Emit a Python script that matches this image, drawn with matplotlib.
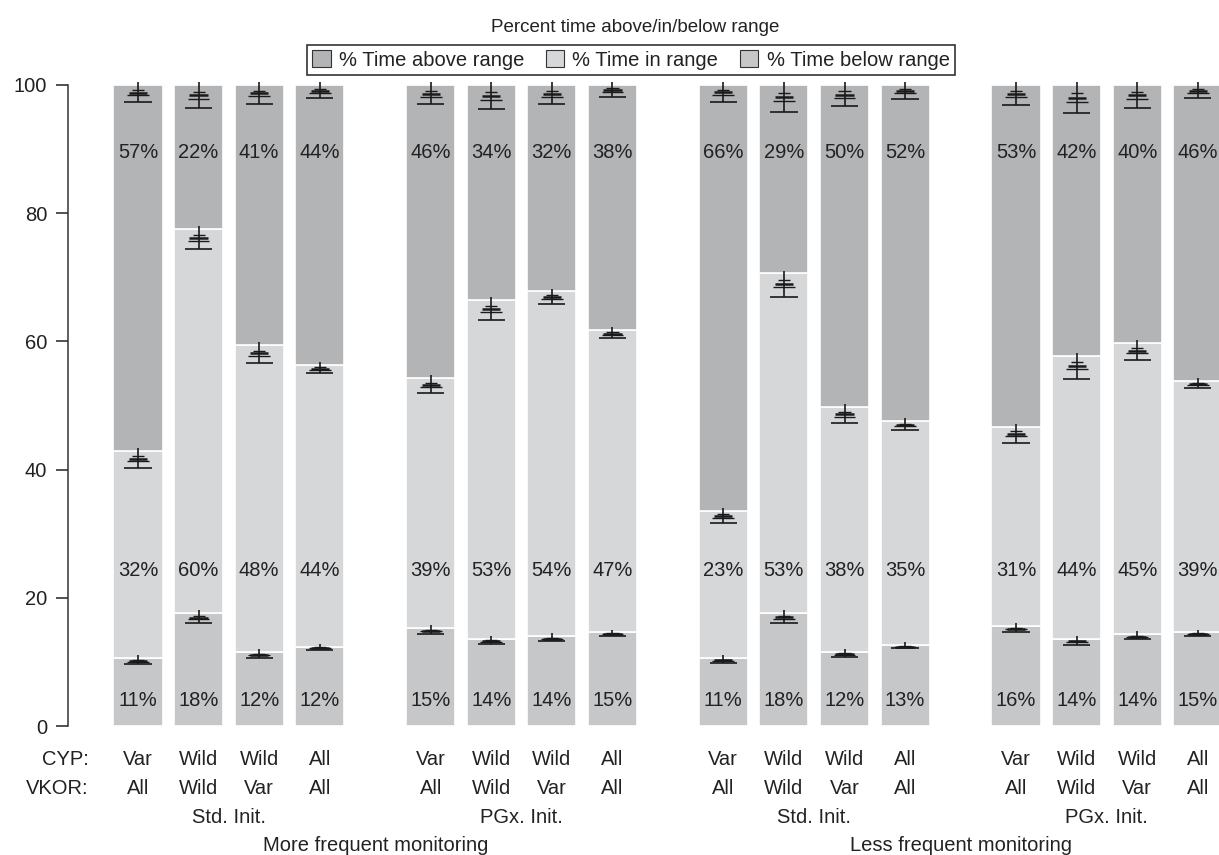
# 堆叠柱状图：Percent time above/in/below range
import matplotlib
matplotlib.use('Agg')
import matplotlib.pyplot as plt
from matplotlib.patches import Patch
from matplotlib.transforms import blended_transform_factory

plt.rcParams['font.family'] = ['Liberation Sans', 'DejaVu Sans']

# 每组四根柱子的基因型标签
cyp_labels = ['Var', 'Wild', 'Wild', 'All']
vkor_labels = ['All', 'Wild', 'Var', 'All']
init_labels = ['Std. Init.', 'PGx. Init.', 'Std. Init.', 'PGx. Init.']
monitor_labels = ['More frequent monitoring', 'Less frequent monitoring']
series_labels = ['% Time above range', '% Time in range', '% Time below range']

# 四组 x 四根，below + in + above = 100
pct_below = [10.6, 17.6, 11.6, 12.4, 15.3, 13.6, 14.0, 14.6,
             10.6, 17.7, 11.6, 12.6, 15.6, 13.6, 14.3, 14.6]
pct_in = [32.3, 60.0, 47.8, 43.9, 39.0, 52.8, 53.8, 47.2,
          23.0, 52.9, 38.2, 35.0, 31.1, 44.2, 45.4, 39.3]
pct_above = [57.1, 22.4, 40.6, 43.7, 45.7, 33.6, 32.2, 38.2,
             66.4, 29.4, 50.2, 52.4, 53.3, 42.2, 40.3, 46.1]

# 误差标记的长度（顶部 / 中间边界 / 底部边界）
err_top = [2.7, 3.6, 2.9, 2.0, 3.0, 3.8, 3.0, 1.8,
           2.6, 4.2, 3.3, 2.2, 3.1, 4.4, 3.6, 2.0]
err_mid = [2.6, 3.2, 2.8, 1.2, 2.4, 3.0, 2.0, 1.3,
           2.0, 3.6, 2.6, 1.4, 2.5, 3.6, 2.6, 1.2]
err_bot = [0.9, 1.6, 1.0, 0.5, 0.9, 0.8, 0.8, 0.5,
           0.8, 1.6, 0.9, 0.5, 0.9, 0.9, 0.8, 0.5]

c_above = '#b3b4b6'
c_in = '#d6d7d9'
c_below = '#c6c7c9'
txt_color = '#222222'
line_color = '#1a1a1a'


def draw_marker(ax, xc, y0, e):
    """画那种“土”字形的误差标记"""
    ax.vlines(xc, y0 - e, y0 + 0.45, color=line_color, lw=1.2, clip_on=False)
    for frac, w, lw in zip([0.3, 0.45, 0.6, 1.0], [0.2, 0.3, 0.36, 0.45], [1.0, 1.8, 1.0, 1.2]):
        ax.hlines(y0 - frac * e, xc - w / 2, xc + w / 2,
                  color=line_color, lw=lw, clip_on=False)


fig = plt.figure(figsize=(12.19, 8.55), dpi=100)
ax = fig.add_axes([68 / 1219, 129 / 855, 1151 / 1219, 641 / 855])

# 柱子位置：组间距 4.83，组内间距 1
xs = [g * 4.83 + i for g in range(4) for i in range(4)]
bw = 0.81

bottoms_in = pct_below
bottoms_above = [b + m for b, m in zip(pct_below, pct_in)]
ax.bar(xs, pct_below, width=bw, color=c_below, edgecolor='white', linewidth=1.2)
ax.bar(xs, pct_in, width=bw, bottom=bottoms_in, color=c_in, edgecolor='white', linewidth=1.2)
ax.bar(xs, pct_above, width=bw, bottom=bottoms_above, color=c_above, edgecolor='white', linewidth=1.2)

for i, x in enumerate(xs):
    top = bottoms_above[i] + pct_above[i]
    draw_marker(ax, x, top, err_top[i])
    draw_marker(ax, x, bottoms_above[i], err_mid[i])
    draw_marker(ax, x, pct_below[i], err_bot[i])
    # 百分比文字（固定高度）
    ax.text(x, 4.0, f'{pct_below[i]:.0f}%', ha='center', va='center', fontsize=14.5, color=txt_color)
    ax.text(x, 24.3, f'{pct_in[i]:.0f}%', ha='center', va='center', fontsize=14.5, color=txt_color)
    ax.text(x, 89.4, f'{pct_above[i]:.0f}%', ha='center', va='center', fontsize=14.5, color=txt_color)

ax.set_xlim(-1.155, 17.84)
ax.set_ylim(0, 100)
ax.set_yticks([0, 20, 40, 60, 80, 100])
ax.set_xticks([])
for s in ['top', 'right', 'bottom']:
    ax.spines[s].set_visible(False)
ax.spines['left'].set_bounds(0, 100)
ax.spines['left'].set_linewidth(1.1)
ax.spines['left'].set_color('#333333')
ax.tick_params(axis='y', length=8.6, width=1.1, pad=6.5, labelsize=14.5,
               colors=txt_color)

# 底部分类标签
trans = blended_transform_factory(ax.transData, fig.transFigure)
row_y = [1 - 759 / 855, 1 - 788 / 855, 1 - 817 / 855, 1 - 845 / 855]
fig.text(89 / 1219, row_y[0], 'CYP:', ha='right', va='center', fontsize=14.5, color=txt_color)
fig.text(89 / 1219, row_y[1], 'VKOR:', ha='right', va='center', fontsize=14.5, color=txt_color)
for i, x in enumerate(xs):
    ax.text(x, row_y[0], cyp_labels[i % 4], transform=trans, ha='center', va='center',
            fontsize=14.5, color=txt_color)
    ax.text(x, row_y[1], vkor_labels[i % 4], transform=trans, ha='center', va='center',
            fontsize=14.5, color=txt_color)
for g in range(4):
    gx = (xs[g * 4 + 1] + xs[g * 4 + 2]) / 2
    ax.text(gx, row_y[2], init_labels[g], transform=trans, ha='center', va='center',
            fontsize=14.5, color=txt_color)
for m in range(2):
    mx = (xs[m * 8] + xs[m * 8 + 7]) / 2
    ax.text(mx, row_y[3], monitor_labels[m], transform=trans, ha='center', va='center',
            fontsize=14.5, color=txt_color)

# 标题和图例
fig.text(0.521, 1 - 28 / 855, 'Percent time above/in/below range', ha='center', va='center',
         fontsize=13.5, color=txt_color)
handles = [Patch(facecolor=c, edgecolor='#333333', linewidth=0.8) for c in [c_above, c_in, c_below]]
leg = fig.legend(handles, series_labels, loc='center', bbox_to_anchor=(631 / 1219, 1 - 60 / 855),
                 ncol=3, frameon=True, fancybox=False, edgecolor='black', fontsize=14.5,
                 handlelength=0.9, handleheight=0.9, columnspacing=1.1, handletextpad=0.4,
                 borderpad=0.25, borderaxespad=0)
leg.get_frame().set_linewidth(1.2)
for t in leg.get_texts():
    t.set_color(txt_color)

fig.savefig('out.png', dpi=100)
